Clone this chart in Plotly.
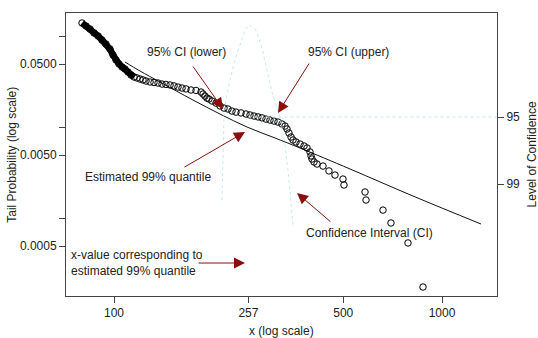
import numpy as np
import plotly.graph_objects as go

# ---- data ----
tail_x = [79.9, 82.2, 84.5, 86.9, 89.4, 91.9, 94.5, 97.2, 99.3, 101.4, 103.6, 105.8, 108.0, 110.3,
          112.7, 115.1, 117.5, 120.0, 122.6, 125.2, 128.8, 132.4, 136.2, 140.1, 144.0, 148.2, 152.4,
          156.7, 161.2, 165.8, 171.7, 177.8, 184.2, 186.8, 189.4, 192.1, 194.8, 199.0, 204.6, 210.5,
          216.5, 222.6, 228.9, 235.5, 243.9, 252.6, 259.8, 267.2, 274.8, 282.6, 290.7, 298.9, 307.4,
          316.2, 325.2, 332.2, 336.9, 341.6, 346.5, 351.4, 358.8, 369.1, 379.6, 387.7, 395.9, 398.7,
          401.5, 407.2, 415.8, 433.7, 452.3, 471.8, 499.0, 502.5, 582.5, 586.6, 660.9, 698.9, 787.6,
          875.2]
tail_p = [0.1411, 0.1308, 0.1212, 0.1095, 0.1015, 0.0918, 0.0830, 0.0731, 0.0628, 0.0553, 0.0500,
          0.0464, 0.0441, 0.0408, 0.0378, 0.0360, 0.0351, 0.0342, 0.0334, 0.0325, 0.0317, 0.0313,
          0.0309, 0.0301, 0.0298, 0.0294, 0.0287, 0.0279, 0.0272, 0.0266, 0.0259, 0.0256, 0.0246,
          0.0234, 0.0222, 0.0211, 0.0206, 0.0196, 0.0186, 0.0173, 0.0164, 0.0160, 0.0152, 0.0148,
          0.0145, 0.0141, 0.01376, 0.0134, 0.0131, 0.0128, 0.0124, 0.0121, 0.0118, 0.0115, 0.01095,
          0.0104, 0.00965, 0.00872, 0.00788, 0.00731, 0.00695, 0.0066, 0.00628, 0.00597, 0.0054,
          0.00488, 0.00452, 0.00419, 0.00398, 0.00378, 0.00334, 0.00301, 0.00272, 0.00234, 0.00196,
          0.0016, 0.00124, 0.000895, 0.00054, 0.000177]
dense_count = 16  # leading observations that overlap into a solid band

fit_x = [108.0, 120.0, 138.1, 174.1, 210.5, 254.4, 309.7, 369.1, 524.2, 815.9, 1315]
fit_p = [0.0526, 0.0419, 0.0317, 0.0201, 0.0141, 0.01015, 0.00769, 0.00597, 0.00351, 0.00177, 0.000872]

prof_x = [213.4, 214.9, 216.5, 219.5, 225.8, 233.8, 242.2, 250.8, 257.0, 271.0, 282.6, 292.7,
          303.1, 320.7, 332.2, 341.6, 351.4]
prof_ll = [-3.65, -2.61, -1.92, -1.566, -1.149, -0.732, -0.419, -0.106, 0.0, -0.106, -0.48, -0.94,
           -1.40, -1.92, -2.50, -3.23, -4.21]

q_est = 257
x_ticks = [100, 257, 500, 1000]
y_ticks = [0.1, 0.05, 0.01, 0.005, 0.001, 0.0005]
y_ticktext = ["", "0.0500", "", "0.0050", "", "0.0005"]
conf_ll = [-1.921, -3.317]
conf_text = ["95", "99"]

FONT = "Liberation Sans, Arial, Helvetica, sans-serif"
TXT = "#222222"
ARROW = "#8b0d0d"
CYAN = "#c4ecec"
L = np.log10

fig = go.Figure()

# profile likelihood curve (secondary axis)
fig.add_trace(go.Scatter(x=prof_x, y=prof_ll, yaxis="y2", mode="lines",
                         line=dict(color=CYAN, width=1, dash="dot"),
                         hoverinfo="skip", showlegend=False))
# 95% confidence level line
fig.add_trace(go.Scatter(x=[q_est, 10 ** 3.1677], y=[conf_ll[0], conf_ll[0]], yaxis="y2", mode="lines",
                         line=dict(color=CYAN, width=1, dash="dot"),
                         hoverinfo="skip", showlegend=False))

# fitted tail
fig.add_trace(go.Scatter(x=fit_x, y=fit_p, mode="lines", line=dict(color="#111111", width=1),
                         line_shape="spline", showlegend=False))
# dense band of overlapping observations
fig.add_trace(go.Scatter(x=tail_x[:dense_count], y=tail_p[:dense_count], mode="lines",
                         line=dict(color="black", width=6.5), showlegend=False))
# observations
fig.add_trace(go.Scatter(x=tail_x, y=tail_p, mode="markers",
                         marker=dict(symbol="circle-open", size=6.5, color="black",
                                     line=dict(width=1, color="black")),
                         showlegend=False))

# vertical line at the estimated quantile
fig.add_shape(type="line", xref="x", yref="paper", x0=L(q_est), x1=L(q_est), y0=0, y1=1,
              line=dict(color="#bdbdbd", width=1, dash="dot"))
# R style x axis line below the box
fig.add_shape(type="line", xref="x", yref="paper", x0=2, x1=3, y0=-0.008, y1=-0.008,
              line=dict(color="#444444", width=1))


def arrow(tip, tail):
    fig.add_annotation(x=L(tip[0]), y=L(tip[1]), ax=L(tail[0]), ay=L(tail[1]),
                       xref="x", yref="y", axref="x", ayref="y", text="", showarrow=True,
                       arrowhead=2, arrowsize=2.2, arrowwidth=1, arrowcolor=ARROW)


def label(x, y, text, xanchor="center", align="center"):
    fig.add_annotation(x=L(x), y=L(y), xref="x", yref="y", text=text, showarrow=False,
                       xanchor=xanchor, yanchor="middle", align=align,
                       font=dict(family=FONT, size=12, color=TXT))


arrow((214.9, 0.0160), (172.9, 0.0487))
arrow((316.2, 0.0145), (395.9, 0.0526))
arrow((250.8, 0.00895), (162.3, 0.0036))
arrow((361.4, 0.00191), (461.9, 0.000895))
arrow((250.8, 0.000325), (179.1, 0.000325))

label(165.8, 0.0678, "95% CI (lower)")
label(516.9, 0.0678, "95% CI (upper)")
label(127.0, 0.00287, "Estimated 99% quantile")
label(599.0, 0.000695, "Confidence Interval (CI)")
label(72.9, 0.000325, "x-value corresponding to<br>estimated 99% quantile", xanchor="left", align="left")

# axis titles
title_font = dict(family=FONT, size=12, color=TXT)
fig.add_annotation(x=-0.127, y=0.5, xref="paper", yref="paper", text="Tail Probability (log scale)",
                   textangle=-90, showarrow=False, xanchor="center", yanchor="middle", font=title_font)
fig.add_annotation(x=1.081, y=0.5, xref="paper", yref="paper", text="Level of Confidence",
                   textangle=-90, showarrow=False, xanchor="center", yanchor="middle", font=title_font)
fig.add_annotation(x=0.5, y=-0.124, xref="paper", yref="paper", text="x (log scale)",
                   showarrow=False, xanchor="center", yanchor="middle", font=title_font)

axis_common = dict(showgrid=False, zeroline=False, ticks="outside", ticklen=6,
                   tickcolor="#444444", linecolor="#444444", showline=True,
                   tickfont=dict(family=FONT, size=12, color=TXT))

fig.update_layout(
    width=538, height=338,
    margin=dict(l=66, r=41, t=13, b=42),
    paper_bgcolor="white", plot_bgcolor="white",
    showlegend=False,
    xaxis=dict(type="log", range=[1.85366, 3.16768], tickvals=x_ticks,
               ticktext=[str(v) for v in x_ticks], mirror=True, **axis_common),
    yaxis=dict(type="log", range=[-3.85048, -0.74059], tickvals=y_ticks, ticktext=y_ticktext,
               mirror=True, **axis_common),
    yaxis2=dict(overlaying="y", side="right", range=[-5.651, 0.248], tickvals=conf_ll,
                ticktext=conf_text, **axis_common),
)

fig.write_html("out.html")
